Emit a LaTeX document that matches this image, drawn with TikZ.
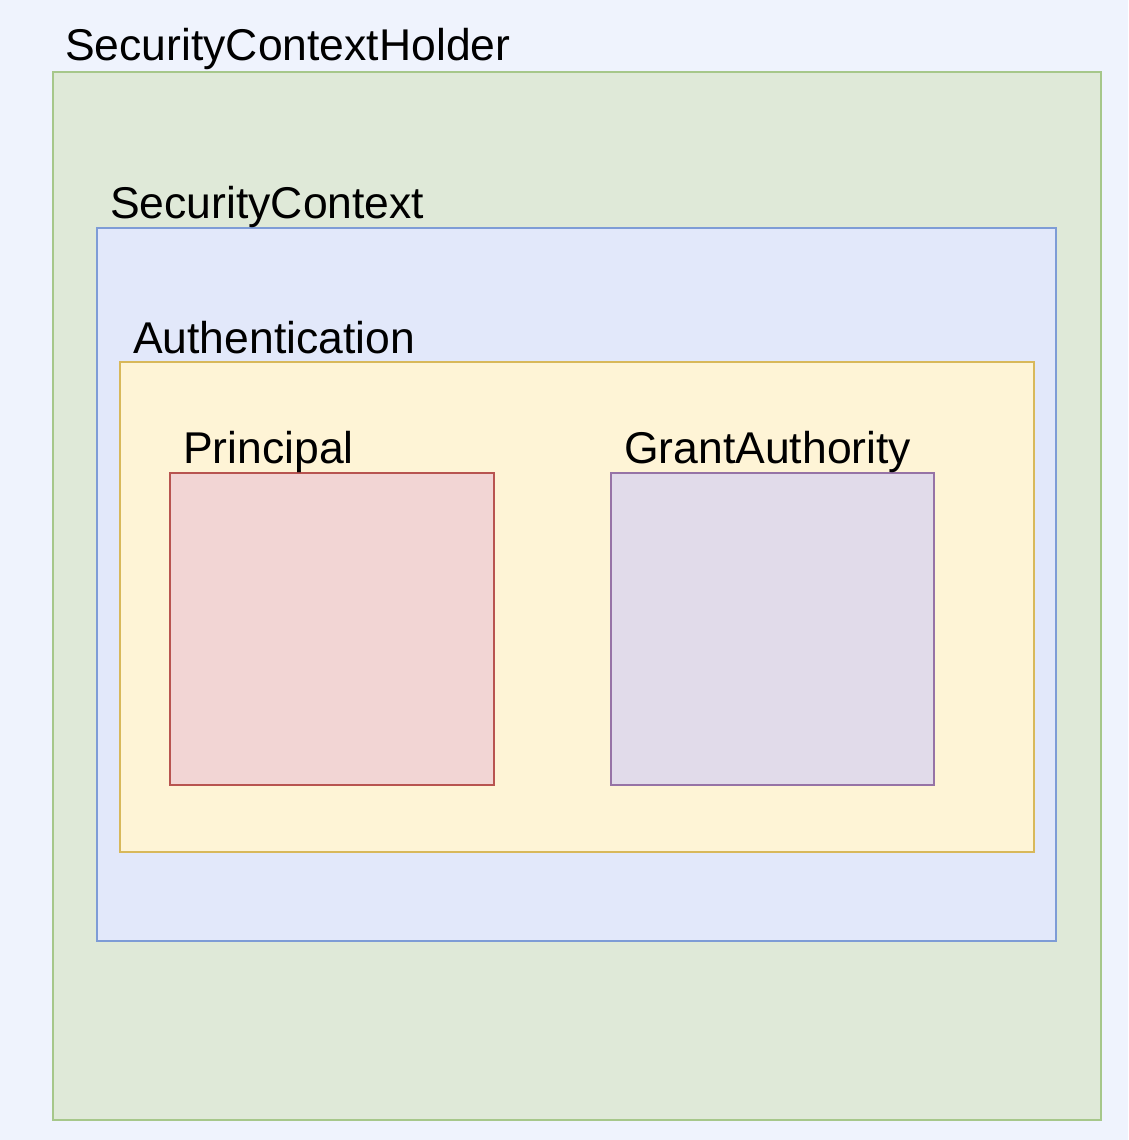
\documentclass[tikz,border=0pt]{standalone}
\usepackage{fontspec}
\setmainfont{Liberation Sans}
\definecolor{bgc}{HTML}{EFF3FD}
\definecolor{holderfill}{HTML}{DFE9D8}
\definecolor{holderline}{HTML}{A6C78A}
\definecolor{ctxfill}{HTML}{E2E8FA}
\definecolor{ctxline}{HTML}{7E9CD6}
\definecolor{authfill}{HTML}{FEF4D6}
\definecolor{authline}{HTML}{D8B85A}
\definecolor{prinfill}{HTML}{F2D5D4}
\definecolor{prinline}{HTML}{B85450}
\definecolor{grantfill}{HTML}{E1DBEA}
\definecolor{grantline}{HTML}{9673A6}
\begin{document}
\begin{tikzpicture}[x=1pt,y=-1pt,
  box/.style={line width=2pt},
  lbl/.style={anchor=base west,inner sep=0pt,font=\fontsize{44.5}{50}\selectfont}]
\fill[bgc] (0,0) rectangle (1128,1140);
\useasboundingbox (0,0) rectangle (1128,1140);
\draw[box,fill=holderfill,draw=holderline] (53,72) rectangle (1101,1120);
\draw[box,fill=ctxfill,draw=ctxline] (97,228) rectangle (1056,941);
\draw[box,fill=authfill,draw=authline] (120,362) rectangle (1034,852);
\draw[box,fill=prinfill,draw=prinline] (170,473) rectangle (494,785);
\draw[box,fill=grantfill,draw=grantline] (611,473) rectangle (934,785);
\node[lbl] (tholder) at (65,61) {SecurityContextHolder};
\node[lbl] (tctx) at (110,218) {SecurityContext};
\node[lbl] (tauth) at (133,353) {Authentication};
\node[lbl] (tprin) at (183,463) {Principal};
\node[lbl] (tgrant) at (624,463) {GrantAuthority};
\end{tikzpicture}
\end{document}
